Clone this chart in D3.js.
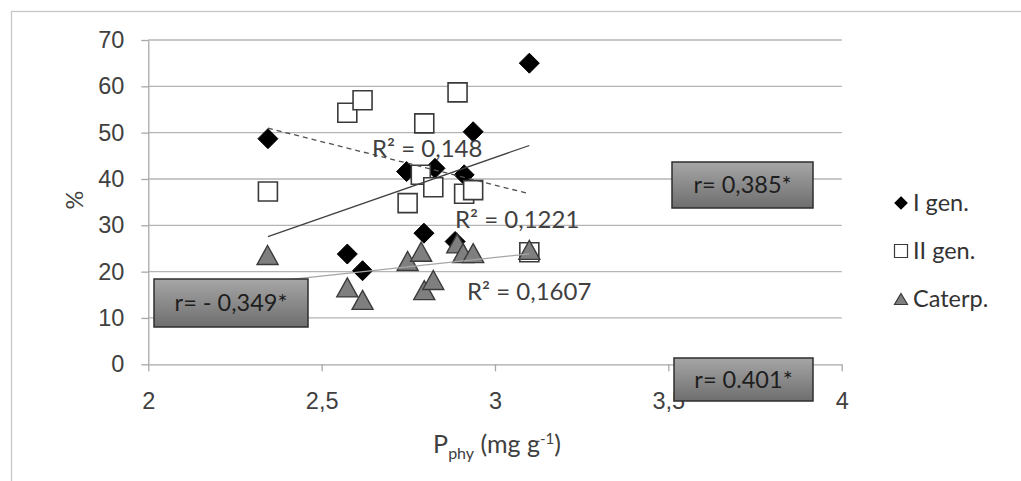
<!DOCTYPE html>
<meta charset="utf-8">
<head>
<style>
body { margin: 0; background: #fff; }
svg { font-family: Lato, "Open Sans", sans-serif; }
.grid line { stroke: #b4b4b4; stroke-width: 1.3px; }
.axis path, .axis line { stroke: #a8a8a8; stroke-width: 1.3px; }
.axis text { fill: #404040; font-size: 23.5px; }
</style>
</head>
<body>
<script src="https://d3js.org/d3.v7.min.js"></script>
<div id="chart"></div>
<script>

var width = 1021,
    height = 481;

// values
var genIx = [2.345, 2.574, 2.618, 2.745, 2.795, 2.827, 2.885, 2.911, 2.937, 3.099];
var genIy = [48.7, 23.8, 20.2, 41.6, 28.3, 42.3, 26.5, 40.9, 50.2, 65.0];
var genIIx = [2.345, 2.574, 2.618, 2.748, 2.786, 2.796, 2.822, 2.892, 2.911, 2.937, 3.099];
var genIIy = [37.3, 54.3, 57.0, 34.8, 40.9, 52.0, 38.2, 58.7, 36.8, 37.6, 24.2];
var caterpX = [2.344, 2.574, 2.618, 2.748, 2.787, 2.796, 2.822, 2.891, 2.908, 2.937, 3.099];
var caterpY = [23.6, 16.6, 13.9, 22.3, 24.3, 16.0, 18.2, 26.1, 24.0, 24.0, 24.7];
var seriesNames = ["I gen.", "II gen.", "Caterp."];
var xTicks = [2, 2.5, 3, 3.5, 4];
var yTicks = [0, 10, 20, 30, 40, 50, 60, 70];
var r2Labels = ["R² = 0,148", "R² = 0,1221", "R² = 0,1607"];
var rLabels = ["r= 0,385*", "r= - 0,349*", "r= 0.401*"];

var x = d3.scaleLinear().domain([2, 4]).range([148.3, 841.7]);
var y = d3.scaleLinear().domain([0, 70]).range([364.3, 40]);

var svg = d3.select('#chart')
    .append('svg')
    .attr('width', width)
    .attr('height', height);

// chart frame (runs off the page at right / bottom)
svg.append('rect')
    .attr('x', 11.5).attr('y', 11.5)
    .attr('width', 1100).attr('height', 600)
    .attr('fill', 'none')
    .attr('stroke', '#c6c6c6')
    .attr('stroke-width', 1.3);

var defs = svg.append('defs');
var grad = defs.append('linearGradient')
    .attr('id', 'boxfill')
    .attr('x1', 0).attr('y1', 0).attr('x2', 0).attr('y2', 1);
grad.append('stop').attr('offset', '0%').attr('stop-color', '#a6a6a6');
grad.append('stop').attr('offset', '100%').attr('stop-color', '#6e6e6e');

// gridlines
svg.append('g')
    .attr('class', 'grid')
    .selectAll('line')
    .data(yTicks.filter(function (d) { return d > 0; }))
    .enter().append('line')
    .attr('x1', x(2)).attr('x2', x(4))
    .attr('y1', function (d) { return y(d); })
    .attr('y2', function (d) { return y(d); });

var fmt = function (d) { return String(d).replace('.', ','); };

svg.append('g')
    .attr('class', 'axis')
    .attr('transform', 'translate(0,' + y(0) + ')')
    .call(d3.axisBottom(x).tickValues(xTicks).tickFormat(fmt).tickSize(7).tickSizeOuter(0).tickPadding(21));

svg.append('g')
    .attr('class', 'axis')
    .attr('transform', 'translate(' + x(2) + ',0)')
    .call(d3.axisLeft(y).tickValues(yTicks).tickSize(7).tickSizeOuter(0).tickPadding(17));

// markers
var diamond = 'M0,-10L10,0L0,10L-10,0Z',
    square = 'M-9.5,-9.5H9.5V9.5H-9.5Z',
    triangle = 'M0,-9.5L10.5,9.5L-10.5,9.5Z';

function zip(xs, ys) { return xs.map(function (v, i) { return [v, ys[i]]; }); }

var series = [
  { pts: zip(genIx, genIy), shape: diamond, fill: '#000', stroke: '#000', sw: 1 },
  { pts: zip(genIIx, genIIy), shape: square, fill: '#fff', stroke: '#3a3a3a', sw: 1.6 },
  { pts: zip(caterpX, caterpY), shape: triangle, fill: '#7f7f7f', stroke: '#3a3a3a', sw: 1.4 }
];

series.forEach(function (s) {
  svg.append('g').selectAll('path')
      .data(s.pts)
      .enter().append('path')
      .attr('d', s.shape)
      .attr('transform', function (d) { return 'translate(' + x(d[0]) + ',' + y(d[1]) + ')'; })
      .attr('fill', s.fill)
      .attr('stroke', s.stroke)
      .attr('stroke-width', s.sw);
});

// linear trendlines
function fit(xs, ys) {
  var mx = d3.mean(xs), my = d3.mean(ys);
  var sxy = d3.sum(xs, function (v, i) { return (v - mx) * (ys[i] - my); });
  var sxx = d3.sum(xs, function (v) { return (v - mx) * (v - mx); });
  var b = sxy / sxx;
  var x0 = d3.min(xs), x1 = d3.max(xs);
  return [[x0, my + b * (x0 - mx)], [x1, my + b * (x1 - mx)]];
}

var line = d3.line()
    .x(function (d) { return x(d[0]); })
    .y(function (d) { return y(d[1]); });

svg.append('path').attr('d', line(fit(genIx, genIy)))
    .attr('fill', 'none').attr('stroke', '#404040').attr('stroke-width', 1.3);
svg.append('path').attr('d', line(fit(genIIx, genIIy)))
    .attr('fill', 'none').attr('stroke', '#505050').attr('stroke-width', 1.3)
    .attr('stroke-dasharray', '5,4');
svg.append('path').attr('d', line(fit(caterpX, caterpY)))
    .attr('fill', 'none').attr('stroke', '#a6a6a6').attr('stroke-width', 1.2);

// R² labels
var r2Pos = [[372, 157], [455, 228], [467, 300]];
svg.append('g').selectAll('text')
    .data(r2Labels)
    .enter().append('text')
    .attr('x', function (d, i) { return r2Pos[i][0]; })
    .attr('y', function (d, i) { return r2Pos[i][1]; })
    .attr('fill', '#404040')
    .style('font-size', '24px')
    .text(function (d) { return d; });

// r boxes
var boxPos = [[672, 162, 141, 46], [154, 279, 154, 48], [674, 358, 139, 43]];
var boxes = svg.append('g').selectAll('g')
    .data(rLabels)
    .enter().append('g')
    .attr('transform', function (d, i) { return 'translate(' + boxPos[i][0] + ',' + boxPos[i][1] + ')'; });
boxes.append('rect')
    .attr('width', function (d, i) { return boxPos[i][2]; })
    .attr('height', function (d, i) { return boxPos[i][3]; })
    .attr('fill', 'url(#boxfill)')
    .attr('stroke', '#2e2e2e')
    .attr('stroke-width', 1.5);
boxes.append('text')
    .attr('x', function (d, i) { return boxPos[i][2] / 2; })
    .attr('y', function (d, i) { return boxPos[i][3] / 2; })
    .attr('dy', '0.36em')
    .attr('text-anchor', 'middle')
    .attr('fill', '#1e1e1e')
    .style('font-size', '23.5px')
    .text(function (d) { return d; });

// legend
var legendShapes = ['M0,-6L6,0L0,6L-6,0Z', 'M-6.5,-6.5H6.5V6.5H-6.5Z', 'M0,-5.5L6.5,5.5L-6.5,5.5Z'];
var legend = svg.append('g').selectAll('g')
    .data(seriesNames)
    .enter().append('g')
    .attr('transform', function (d, i) { return 'translate(901,' + (203 + i * 48) + ')'; });
legend.append('path')
    .attr('d', function (d, i) { return legendShapes[i]; })
    .attr('fill', function (d, i) { return series[i].fill; })
    .attr('stroke', function (d, i) { return series[i].stroke; })
    .attr('stroke-width', 1.2);
legend.append('text')
    .attr('x', 12)
    .attr('dy', '0.36em')
    .attr('fill', '#333')
    .style('font-size', '23.5px')
    .text(function (d) { return d; });

// axis titles
var xt = svg.append('text')
    .attr('x', 497).attr('y', 453)
    .attr('text-anchor', 'middle')
    .attr('fill', '#404040')
    .style('font-size', '25px');
xt.append('tspan').text('P');
xt.append('tspan').attr('dy', 6).style('font-size', '16px').text('phy');
xt.append('tspan').attr('dy', -6).text(' (mg g');
xt.append('tspan').attr('dy', -9).style('font-size', '15px').text('-1');
xt.append('tspan').attr('dy', 9).text(')');

svg.append('text')
    .attr('transform', 'translate(75,200) rotate(-90)')
    .attr('text-anchor', 'middle')
    .attr('dy', '0.36em')
    .attr('fill', '#404040')
    .style('font-size', '23.5px')
    .text('%');

</script>
</body>
